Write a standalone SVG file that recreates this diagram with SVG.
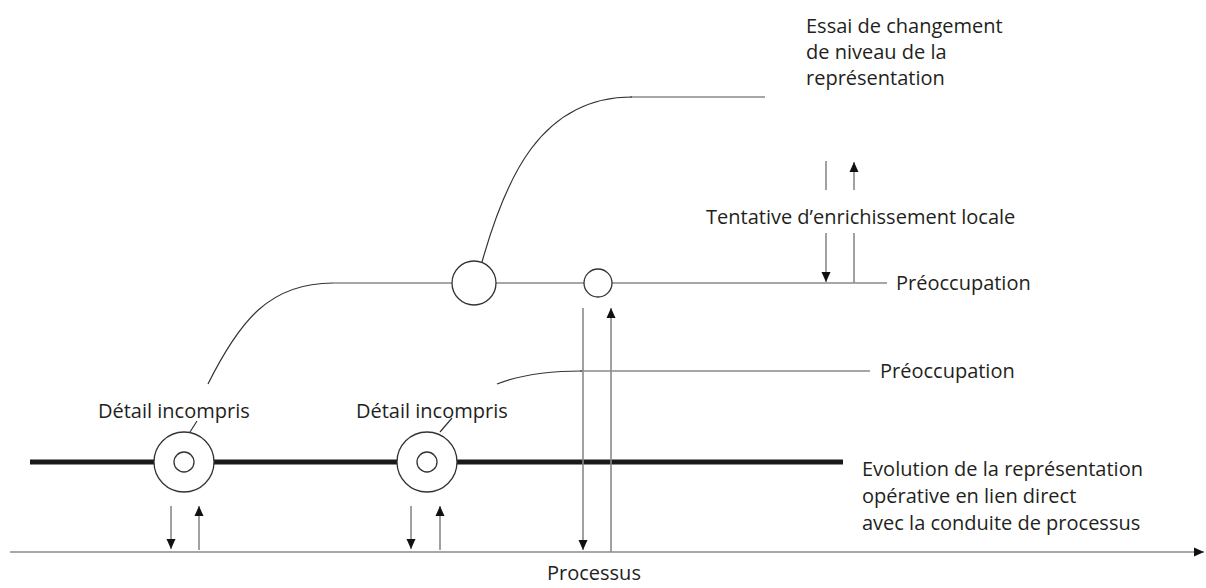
<svg xmlns="http://www.w3.org/2000/svg" width="1206" height="588" viewBox="0 0 1206 588">
<style>
text{font-family:"Open Sans","Liberation Sans",sans-serif;font-size:20px;fill:#231f20}
.ar{stroke:#8a8a8a;stroke-width:1.6;fill:none}
.hl{stroke:#8a8a8a;stroke-width:1.6;fill:none}
.cv{stroke:#333;stroke-width:1.2;fill:none}
.nd{stroke:#333;stroke-width:1.3;fill:#fff}
</style>
<defs>
<marker id="ah" viewBox="0 0 10 10" refX="10" refY="5" markerWidth="10" markerHeight="10" markerUnits="userSpaceOnUse" orient="auto">
<path d="M0,0.5 L10,5 L0,9.5 Z" fill="#111"/>
</marker>
</defs>
<rect width="1206" height="588" fill="#fff"/>
<g id="connectors">
<line class="hl" x1="10" y1="552" x2="1204" y2="552" marker-end="url(#ah)"/>
<line x1="30" y1="462" x2="843" y2="462" stroke="#1a1a1a" stroke-width="5"/>
<line class="hl" x1="333" y1="283" x2="887" y2="283" stroke="#555"/>
<line class="hl" x1="580" y1="371" x2="870" y2="371"/>
<line class="hl" x1="630" y1="97" x2="765" y2="97"/>
<path class="cv" d="M208,384 C240,320 270,283 333,283"/>
<path class="cv" d="M497,384 C520,375 545,371 582,371"/>
<path class="cv" d="M482,262 C505,180 540,97 632,97"/>
<line class="cv" x1="190" y1="432" x2="197" y2="421"/>
<line class="cv" x1="440" y1="432" x2="452" y2="418"/>
<line class="ar" x1="171" y1="506" x2="171" y2="549" marker-end="url(#ah)"/>
<line class="ar" x1="199" y1="550" x2="199" y2="506" marker-end="url(#ah)"/>
<line class="ar" x1="411" y1="506" x2="411" y2="549" marker-end="url(#ah)"/>
<line class="ar" x1="440" y1="550" x2="440" y2="506" marker-end="url(#ah)"/>
<line class="ar" x1="583" y1="308" x2="583" y2="550" marker-end="url(#ah)"/>
<line class="ar" x1="611" y1="552" x2="611" y2="308" marker-end="url(#ah)"/>
<line class="ar" x1="826" y1="161" x2="826" y2="190"/>
<line class="ar" x1="826" y1="233" x2="826" y2="282" marker-end="url(#ah)"/>
<line class="ar" x1="854" y1="283" x2="854" y2="233"/>
<line class="ar" x1="854" y1="190" x2="854" y2="162" marker-end="url(#ah)"/>
</g>
<g id="detail1">
<circle class="nd" cx="184" cy="462" r="30"/>
<circle class="nd" cx="184" cy="462" r="10"/>
</g>
<g id="detail2">
<circle class="nd" cx="427" cy="462" r="30"/>
<circle class="nd" cx="427" cy="462" r="10"/>
</g>
<g id="node-essai">
<circle class="nd" cx="474" cy="283" r="22"/>
</g>
<g id="node-small">
<circle class="nd" cx="598" cy="283" r="14" fill="#efefef"/>
</g>
<g id="labels">
<text x="806" y="33">Essai de changement</text>
<text x="806" y="59">de niveau de la</text>
<text x="806" y="85">représentation</text>
<text x="706" y="224">Tentative d’enrichissement locale</text>
<text x="896" y="290">Préoccupation</text>
<text x="880" y="378">Préoccupation</text>
<text x="98" y="418">Détail incompris</text>
<text x="356" y="418">Détail incompris</text>
<text x="862" y="476">Evolution de la représentation</text>
<text x="862" y="503">opérative en lien direct</text>
<text x="862" y="530">avec la conduite de processus</text>
<text x="547" y="580">Processus</text>
</g>
</svg>
